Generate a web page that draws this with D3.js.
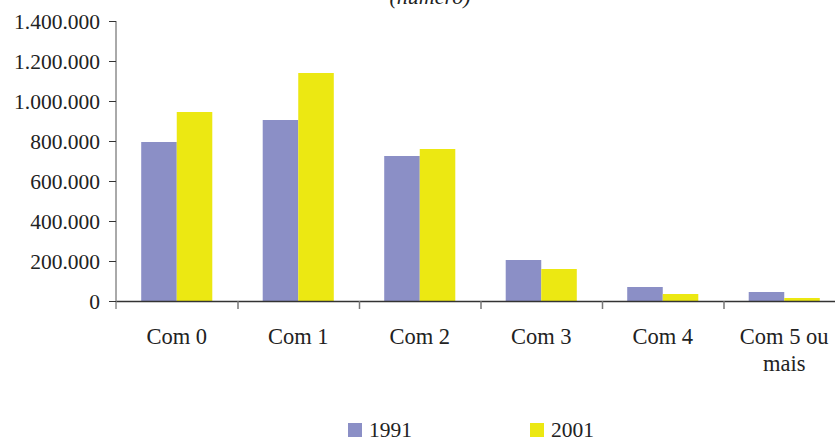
<!DOCTYPE html>
<html>
<head>
	<meta charset="utf-8">
	<title>Com filhos</title>
	<script src="https://cdn.jsdelivr.net/npm/d3@7"></script>
	<style>
		body { margin: 0; background: #fff; }
		text { font-family: "Liberation Serif", "DejaVu Serif", serif; fill: #222; }
	</style>
</head>
<body>
	<div id="chart"></div>
<script type="text/javascript">

	// data
	var categories = ["Com 0", "Com 1", "Com 2", "Com 3", "Com 4", "Com 5 ou mais"];
	var series = ["1991", "2001"];
	var values1991 = [795000, 905000, 725000, 205000, 70000, 45000];
	var values2001 = [945000, 1140000, 760000, 160000, 35000, 15000];
	var yTicks = [0, 200000, 400000, 600000, 800000, 1000000, 1200000, 1400000];
	var colors = ["#8b8fc6", "#ece812"];

	var w = 835;
	var h = 437;
	var plotLeft = 116, plotRight = 845, plotTop = 21, plotBottom = 301;

	var svg = d3.select("#chart")
		.append("svg")
		.attr("width", w)
		.attr("height", h);

	var y = d3.scaleLinear().domain([0, 1400000]).range([plotBottom, plotTop]);

	// outer band for categories, inner band for the two years
	var x0 = d3.scaleBand().domain(categories).range([plotLeft, plotRight])
		.paddingInner(0.415).paddingOuter(0.2075);
	var x1 = d3.scaleBand().domain(series).range([0, x0.bandwidth()]);
	// boundaries between categories for the x ticks
	var xb = d3.scaleLinear().domain([0, categories.length]).range([plotLeft, plotRight]);

	var fmt = function(d) {
		return d3.format(",")(d).replace(/,/g, ".");
	};

	// subtitle, cut off at the top like the original
	svg.append("text")
		.attr("x", 430)
		.attr("y", 4)
		.attr("text-anchor", "middle")
		.style("font-style", "italic")
		.style("font-size", "22px")
		.text("(número)");

	var rows = categories.map(function(c, i) {
		return { cat: c, vals: [values1991[i], values2001[i]] };
	});

	var groups = svg.selectAll("g.grp")
		.data(rows)
		.enter()
		.append("g")
		.attr("class", "grp")
		.attr("transform", function(d) { return "translate(" + x0(d.cat) + ",0)"; });

	groups.selectAll("rect")
		.data(function(d) { return d.vals; })
		.enter()
		.append("rect")
		.attr("x", function(d, i) { return x1(series[i]); })
		.attr("y", function(d) { return y(d); })
		.attr("width", x1.bandwidth())
		.attr("height", function(d) { return plotBottom - y(d); })
		.attr("fill", function(d, i) { return colors[i]; });

	// y axis
	var yAxis = svg.append("g")
		.attr("transform", "translate(" + plotLeft + ",0)")
		.call(d3.axisLeft(y).tickValues(yTicks).tickFormat(fmt).tickSize(7).tickSizeOuter(0));
	yAxis.select(".domain").attr("stroke", "#555").attr("d", "M0," + plotTop + "V" + (plotBottom + 8));
	yAxis.selectAll(".tick line").attr("stroke", "#333");
	yAxis.selectAll(".tick text")
		.attr("x", -16)
		.attr("dy", "0.35em")
		.style("font-size", "21.5px")
		.attr("fill", "#222");

	// x axis
	var xAxis = svg.append("g")
		.attr("transform", "translate(0," + plotBottom + ")")
		.call(d3.axisBottom(xb).tickValues(d3.range(1, categories.length + 1)).tickFormat("").tickSize(8).tickSizeOuter(0));
	xAxis.select(".domain").attr("stroke", "#333").attr("stroke-width", 1.5);
	xAxis.selectAll(".tick line").attr("stroke", "#777").attr("stroke-width", 1.5);

	// category labels
	svg.selectAll("text.cat")
		.data(categories)
		.enter()
		.append("text")
		.attr("class", "cat")
		.attr("x", function(d) { return x0(d) + x0.bandwidth() / 2; })
		.attr("y", 344)
		.attr("text-anchor", "middle")
		.style("font-size", "22.5px")
		.each(function(d) {
			var t = d3.select(this);
			if (d === "Com 5 ou mais") {
				t.append("tspan").attr("x", t.attr("x")).text("Com 5 ou");
				t.append("tspan").attr("x", t.attr("x")).attr("dy", 27).text("mais");
			} else {
				t.text(d);
			}
		});

	// legend
	var legX = [348, 530];
	var leg = svg.selectAll("g.leg")
		.data(series)
		.enter()
		.append("g")
		.attr("class", "leg")
		.attr("transform", function(d, i) { return "translate(" + legX[i] + ",423)"; });
	leg.append("rect")
		.attr("width", 14)
		.attr("height", 14)
		.attr("fill", function(d, i) { return colors[i]; });
	leg.append("text")
		.attr("x", 21)
		.attr("y", 14)
		.style("font-size", "21.5px")
		.text(function(d) { return d; });

</script>
</body>
</html>
